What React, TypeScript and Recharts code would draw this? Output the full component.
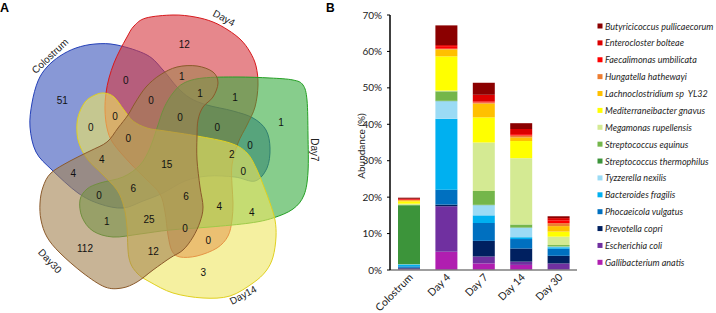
import React from 'react';
import { BarChart, Bar, XAxis, YAxis } from 'recharts';

// ---------------- Data ----------------
const categories = ['Colostrum', 'Day 4', 'Day 7', 'Day 14', 'Day 30'];

const gallibacterium = [0.1, 5.0, 1.8, 1.4, 0.05];
const escherichia = [0.3, 12.5, 1.9, 0.9, 1.75];
const prevotella = [0.2, 0.45, 4.3, 3.6, 2.1];
const phocaeicola = [0.4, 4.1, 4.9, 2.6, 1.95];
const bacteroides = [0.5, 19.5, 2.1, 0.5, 0.4];
const tyzzerella = [0.1, 4.8, 2.8, 2.6, 0.2];
const thermophilus = [16.2, 0.1, 0.1, 0.1, 0];
const equinus = [0.05, 2.6, 3.8, 0.8, 0.4];
const megamonas = [0.35, 0.2, 13.3, 18.2, 2.3];
const mediterraneibacter = [0.65, 9.4, 6.9, 4.7, 1.4];
const lachnoclostridium = [0.3, 1.9, 3.8, 1.0, 1.5];
const hungatella = [0.05, 0.2, 0.3, 0.5, 0.8];
const faecalimonas = [0.2, 0.7, 0.3, 0.4, 0.8];
const enterocloster = [0.15, 0.3, 1.8, 1.4, 0.6];
const butyricicoccus = [0.3, 5.4, 3.3, 1.6, 0.5];

// stacking order: bottom -> top
const speciesNames = [
  'Gallibacterium anatis',
  'Escherichia coli',
  'Prevotella copri',
  'Phocaeicola vulgatus',
  'Bacteroides fragilis',
  'Tyzzerella nexilis',
  'Streptococcus thermophilus',
  'Streptococcus equinus',
  'Megamonas rupellensis',
  'Mediterraneibacter gnavus',
  'Lachnoclostridium sp  YL32',
  'Hungatella hathewayi',
  'Faecalimonas umbilicata',
  'Enterocloster bolteae',
  'Butyricicoccus pullicaecorum',
];
const speciesValues = [
  gallibacterium, escherichia, prevotella, phocaeicola, bacteroides, tyzzerella,
  thermophilus, equinus, megamonas, mediterraneibacter, lachnoclostridium,
  hungatella, faecalimonas, enterocloster, butyricicoccus,
];
const speciesColors = [
  '#B01EB0', '#7030A0', '#002060', '#0070C0', '#00B0F0', '#9BDBF5',
  '#3C943A', '#74B64A', '#D4EA93', '#FFFF00', '#FFC000', '#ED7D31',
  '#FF0000', '#DC0000', '#8B0000',
];
const yTicks = [0, 10, 20, 30, 40, 50, 60, 70];

// Venn data
const setNames = ['Colostrum', 'Day4', 'Day7', 'Day14', 'Day30'];
const regionCounts = [51, 12, 1, 3, 112, 0, 1, 1, 1, 0, 0, 0, 0, 0, 0, 0, 15, 2, 0, 4, 4, 6, 6, 0, 4, 4, 1, 25, 0, 0, 12];

// ---------------- Layout (outline geometry / positions / styles) ----------------
const setOutlines: [number, number][][] = [
  // Colostrum
  [[117, 45], [147, 55], [163, 70], [177, 87], [190, 98], [207, 105], [233, 111], [253, 118], [266, 130],
   [270, 148], [267, 168], [255, 181], [235, 177], [208, 176], [185, 181], [163, 193], [143, 201], [123, 208],
   [100, 204], [78, 193], [52, 170], [36, 152], [30, 127], [32, 103], [38, 81], [47, 67], [60, 56], [76, 48], [95, 44]],
  // Day4
  [[106, 93], [109, 78], [114, 63], [120, 50], [127, 37], [134, 26], [146, 18], [173, 15], [195, 17],
   [213, 22], [228, 30], [241, 40], [250, 52], [256, 66], [258, 85], [255, 107], [247, 125], [238, 143], [232, 165],
   [232, 185], [233, 203], [232, 220], [228, 236], [217, 248], [197, 256], [180, 257], [172, 251],
   [168, 235], [165, 212], [160, 194], [147, 180], [130, 163], [113, 143], [107, 128], [105, 110]],
  // Day7
  [[173, 93], [184, 83], [203, 78], [237, 77], [270, 78], [293, 80], [303, 85], [307, 100], [308, 135],
   [308, 172], [304, 195], [293, 209], [273, 218], [250, 223], [210, 227], [170, 230], [140, 234],
   [113, 237], [93, 231], [82, 217], [80, 200], [87, 189], [100, 183], [123, 177], [140, 165],
   [150, 148], [157, 128], [164, 108]],
  // Day14
  [[77, 133], [78, 117], [85, 102], [95, 95], [104, 93], [114, 97], [124, 110], [133, 121], [147, 128],
   [165, 131], [197, 136], [230, 143], [247, 153], [257, 170], [264, 187], [270, 203], [275, 220],
   [276, 237], [273, 257], [266, 271], [253, 283], [230, 296], [203, 298], [173, 293], [150, 282],
   [137, 273], [129, 258], [127, 227], [124, 207], [117, 190], [102, 174], [88, 160], [80, 146]],
  // Day30
  [[160, 75], [177, 67], [197, 66], [213, 72], [218, 83], [213, 97], [203, 107], [198, 120], [197, 137],
   [197, 160], [200, 187], [203, 207], [200, 222], [193, 237], [183, 250], [170, 258], [153, 270],
   [137, 282], [122, 288], [105, 287], [83, 273], [60, 253], [47, 237], [41, 220], [40, 203], [43, 187],
   [51, 173], [70, 161], [90, 151], [107, 142], [118, 128], [128, 115], [135, 103], [146, 87]],
];
const setFill = ['#3953BB', '#D5373F', '#37AC3F', '#EEE661', '#A38250'];
const setStroke = ['#2440B8', '#D7191C', '#25A025', '#E0D020', '#8B5A2B'];
const setLabelPos = [
  { x: 50, y: 56, a: -43.5 },
  { x: 224, y: 18, a: 28 },
  { x: 314, y: 150, a: 90 },
  { x: 243, y: 295, a: -28 },
  { x: 50, y: 261, a: 47 },
];
const regionPos: [number, number][] = [
  [62.3, 100], [184.3, 44.3], [281, 122.7], [203.3, 272.7], [85, 248.3],
  [125.7, 80], [181.7, 76.7], [200, 93.3], [235, 97.7], [151, 100], [115, 116.7],
  [90.7, 127.7], [180, 117.3], [217.3, 127.7], [250, 145], [128.3, 138.3],
  [166.7, 164.3], [231.7, 154.3], [243.3, 171.7], [101.7, 159.3], [73.3, 173.3],
  [133.3, 188.3], [186, 196.7], [99, 195], [219.3, 206.7], [251.7, 212.3],
  [106.7, 221.7], [149, 219.3], [185, 228.3], [208.3, 240.7], [153.3, 251.7],
];

function smoothClosed(pts: [number, number][]) {
  const n = pts.length;
  let d = `M${pts[0][0]},${pts[0][1]}`;
  for (let i = 0; i < n; i++) {
    const p0 = pts[(i - 1 + n) % n];
    const p1 = pts[i];
    const p2 = pts[(i + 1) % n];
    const p3 = pts[(i + 2) % n];
    const c1 = [p1[0] + (p2[0] - p0[0]) / 6, p1[1] + (p2[1] - p0[1]) / 6];
    const c2 = [p2[0] - (p3[0] - p1[0]) / 6, p2[1] - (p3[1] - p1[1]) / 6];
    d += `C${c1[0].toFixed(2)},${c1[1].toFixed(2)} ${c2[0].toFixed(2)},${c2[1].toFixed(2)} ${p2[0]},${p2[1]}`;
  }
  return d + 'Z';
}

const VFONT = 'Liberation Sans, Arial, sans-serif';

const Venn = () => (
  <svg width={360} height={313} style={{ position: 'absolute', left: 0, top: 0 }}>
    <text x={0} y={12} fontFamily={VFONT} fontWeight="bold" fontSize={12.5} fill="#000">A</text>
    {setNames.map((s, i) => (
      <path key={s} d={smoothClosed(setOutlines[i])}
        fill={setFill[i]} fillOpacity={0.6} stroke={setStroke[i]} strokeWidth={1} />
    ))}
    {setNames.map((s, i) => (
      <text key={s} x={setLabelPos[i].x} y={setLabelPos[i].y} textAnchor="middle" dominantBaseline="central"
        transform={`rotate(${setLabelPos[i].a} ${setLabelPos[i].x} ${setLabelPos[i].y})`}
        fontFamily={VFONT} fontSize={10} fill="#222">{s}</text>
    ))}
    {regionCounts.map((c, i) => (
      <text key={i} x={regionPos[i][0]} y={regionPos[i][1]} textAnchor="middle" dominantBaseline="central"
        fontFamily={VFONT} fontSize={10} fill="#111">{c}</text>
    ))}
  </svg>
);

const tableData = categories.map((c, ci) => {
  const row: Record<string, string | number> = { name: c };
  speciesNames.forEach((s, si) => { row[s] = speciesValues[si][ci]; });
  return row;
});

const FONT = 'Lato, sans-serif';

const XTick = (props: any) => {
  const { x, y, payload } = props;
  const ax = x + 5;
  const ay = y + 8;
  return (
    <text x={ax} y={ay} transform={`rotate(-45 ${ax} ${ay})`} textAnchor="end"
      fontFamily={FONT} fontSize={10.5} fill="#222">{payload.value}</text>
  );
};

const YLabel = (props: any) => {
  const vb = props.viewBox || { x: 10, y: 15, width: 30, height: 255 };
  const x = vb.x + 1;
  const y = vb.y + vb.height / 2 + 3.5;
  return (
    <text x={x} y={y} transform={`rotate(-90 ${x} ${y})`} textAnchor="middle" dominantBaseline="central"
      fontFamily={FONT} fontSize={10} fill="#222">Abundance (%)</text>
  );
};

const LegendBox = () => {
  const rev = speciesNames.map((_, i) => speciesNames.length - 1 - i);
  return (
    <svg width={120} height={313} style={{ position: 'absolute', left: 596, top: 0 }}>
      {rev.map((si, k) => {
        const cy = 26 + k * 16.88;
        return (
          <g key={si}>
            <rect x={1.5} y={cy - 2.5} width={5} height={5} fill={speciesColors[si]} />
            <text x={9} y={cy} dominantBaseline="central" fontFamily={FONT} fontStyle="italic"
              fontSize={9} fill="#262626" style={{ whiteSpace: 'pre' }}>{speciesNames[si]}</text>
          </g>
        );
      })}
    </svg>
  );
};

export default function App() {
  return (
    <div style={{ position: 'absolute', left: 0, top: 0, width: 716, height: 313, background: '#fff', overflow: 'hidden' }}>
      <Venn />
      <svg width={20} height={20} style={{ position: 'absolute', left: 325, top: 0 }}>
        <text x={1} y={11.5} fontFamily={VFONT} fontWeight="bold" fontSize={12} fill="#000">B</text>
      </svg>
      <div style={{ position: 'absolute', left: 350, top: 0 }}>
        <BarChart width={240} height={313} data={tableData}
          margin={{ top: 15, right: 13, bottom: 13, left: 10 }} barSize={22}>
          <XAxis dataKey="name" height={30} tickLine={false} tickSize={0} tickMargin={0}
            axisLine={{ stroke: '#7F7F7F', strokeWidth: 1.5 }} interval={0} tick={<XTick />} />
          <YAxis width={30} domain={[0, 70]} ticks={yTicks} tickFormatter={(v: number) => `${v}%`}
            tickSize={3} tickMargin={5} axisLine={{ stroke: '#000', strokeWidth: 1.5 }}
            tickLine={{ stroke: '#000' }} interval={0}
            tick={{ fontFamily: FONT, fontSize: 10, fill: '#222' }}
            label={<YLabel />} />
          {speciesNames.map((s, i) => (
            <Bar key={s} dataKey={s} stackId="a" fill={speciesColors[i]} isAnimationActive={false} />
          ))}
        </BarChart>
      </div>
      <LegendBox />
    </div>
  );
}
